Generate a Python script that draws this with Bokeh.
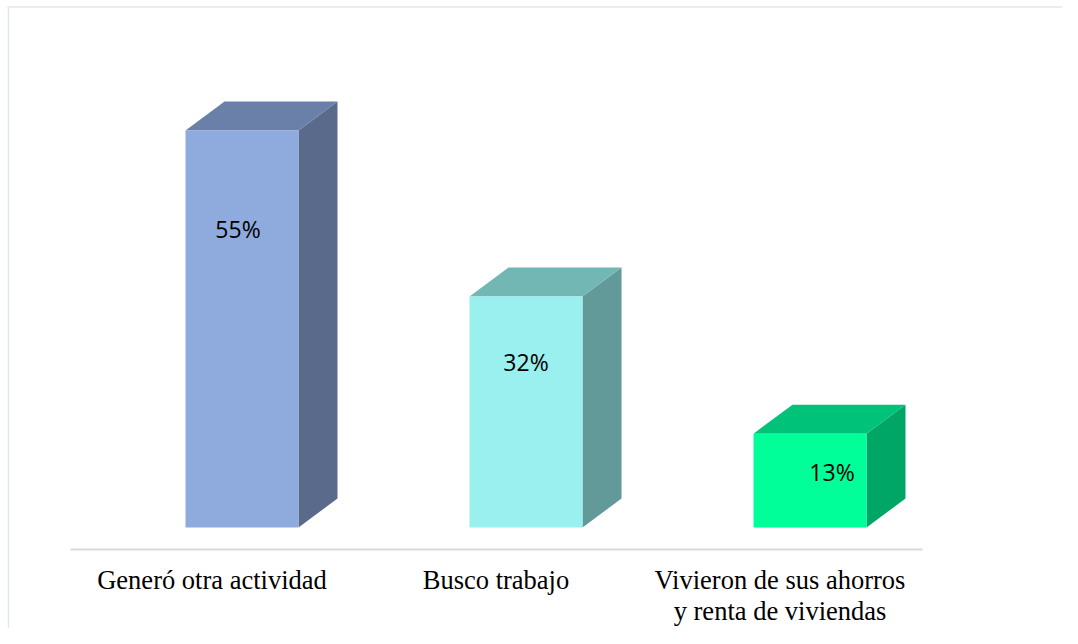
from bokeh.plotting import figure
from bokeh.models import Range1d, ColumnDataSource
from bokeh.core.properties import value
from bokeh.embed import file_html
from bokeh.resources import INLINE

categories = ["Generó otra actividad", "Busco trabajo", "Vivieron de sus ahorros\ny renta de viviendas"]
values = [55, 32, 13]
labels = ["55%", "32%", "13%"]
front_colors = ["#8FAADC", "#99F0EE", "#00FF99"]
top_colors = ["#6A80A8", "#72B7B4", "#00C278"]
side_colors = ["#5A6A8B", "#619A98", "#00A665"]
label_shift_px = [-4, 0, 22]

W, H = 1062, 628
PX_X = 284.0   # px per category unit
PX_Y = 7.22    # px per percent
x0 = -241.5 / PX_X
y0 = -(H - 527) / PX_Y

p = figure(width=W, height=H, output_backend="svg", toolbar_location=None,
           x_range=Range1d(x0, x0 + W / PX_X), y_range=Range1d(y0, y0 + H / PX_Y),
           min_border=0)
p.axis.visible = False
p.grid.visible = False
p.outline_line_color = None
p.background_fill_color = "white"
p.border_fill_color = "white"

hw = 56.5 / PX_X
dx = 39 / PX_X
dy = 29 / PX_Y

fx, fy, tx, ty, sx, sy = [], [], [], [], [], []
for i, v in enumerate(values):
    a, b = i - hw, i + hw
    fx.append([a, b, b, a]); fy.append([0, 0, v, v])
    tx.append([a, b, b + dx, a + dx]); ty.append([v, v, v + dy, v + dy])
    sx.append([b, b + dx, b + dx, b]); sy.append([0, dy, v + dy, v])

p.patches(sx, sy, fill_color=side_colors, line_color=None)
p.patches(tx, ty, fill_color=top_colors, line_color=None)
p.patches(fx, fy, fill_color=front_colors, line_color=None)

# axis line
p.line([-171.5 / PX_X, 680.5 / PX_X], [-22 / PX_Y] * 2, line_color="#D9D9D9", line_width=2)

# frame lines (top & left)
xr = x0 + W / PX_X
yb, yt = y0, y0 + H / PX_Y
p.line([x0 + 7 / PX_X, xr], [yt - 6.5 / PX_Y] * 2, line_color="#E3E6EA", line_width=1.5)
p.line([x0 + 8 / PX_X] * 2, [yb, yt - 6.5 / PX_Y], line_color="#E3E6EA", line_width=1.5)

# data labels
src = ColumnDataSource(dict(
    x=[i + s / PX_X for i, s in enumerate(label_shift_px)],
    y=[v * 0.8 - 2.7 for v in values],
    t=labels))
p.text("x", "y", text="t", source=src, text_align="center", text_baseline="middle",
       text_font=value("Open Sans"), text_font_size="23px", text_color="#000000")

# category labels, one glyph per line
lx, ly, lt = [], [], []
for i, c in enumerate(categories):
    for j, line in enumerate(c.split("\n")):
        lx.append(i - 30 / PX_X)
        ly.append(-(52 + 31 * j) / PX_Y)
        lt.append(line)
csrc = ColumnDataSource(dict(x=lx, y=ly, t=lt))
p.text("x", "y", text="t", source=csrc, text_align="center", text_baseline="middle",
       text_font=value("Liberation Serif"), text_font_size="26.5px", text_color="#000000")

open("out.html", "w").write(file_html(p, INLINE))
